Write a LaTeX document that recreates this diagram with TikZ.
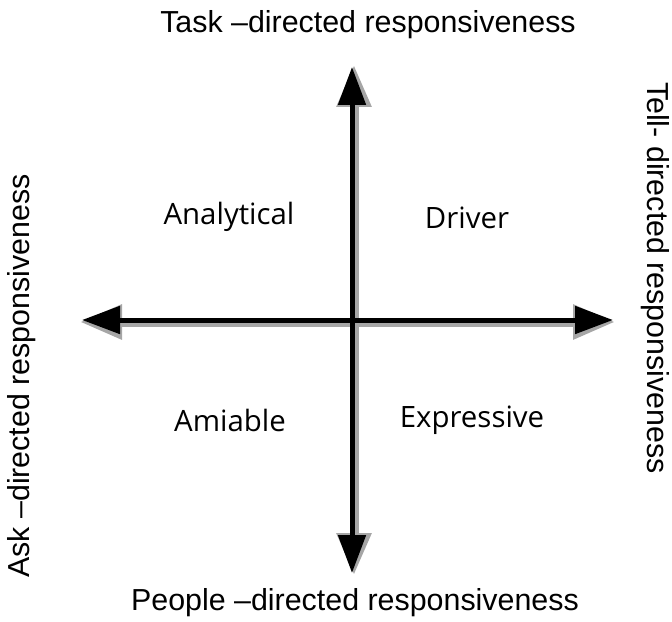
\documentclass[tikz,border=0pt]{standalone}
\usepackage{fontspec}
\setmainfont{Liberation Sans}
\newfontfamily\quadfont{Open Sans}
\usetikzlibrary{arrows.meta}
\begin{document}
\begin{tikzpicture}[x=1bp,y=-1bp,
  axis/.style={line width=5bp,black,-{Triangle[length=38bp,width=27bp]}},
  axisshadow/.style={line width=9bp,black!35,-{Triangle[length=42bp,width=33bp]}},
  outer/.style={font=\fontsize{30.5}{34}\selectfont,inner sep=0pt},
  quad/.style={font=\quadfont\fontsize{29.5}{33}\selectfont,inner sep=0pt}]
\useasboundingbox (0,0) rectangle (672,622);
\coordinate (C) at (352,320);
\coordinate (T) at (352,67);
\coordinate (B) at (352,573);
\coordinate (L) at (82,320);
\coordinate (R) at (613,320);
\coordinate (Ts) at (354,65);
\coordinate (Bs) at (354,575);
\coordinate (Ls) at (80,322);
\coordinate (Rs) at (615,322);
\coordinate (Cs) at (354,322);
% shadows
\draw[axisshadow] (Cs) -- (Ts);
\draw[axisshadow] (Cs) -- (Bs);
\draw[axisshadow] (Cs) -- (Ls);
\draw[axisshadow] (Cs) -- (Rs);
% axes
\draw[axis] (C) -- (T);
\draw[axis] (C) -- (B);
\draw[axis] (C) -- (L);
\draw[axis] (C) -- (R);
% outer labels
\node[outer] (top) at (368,25) {Task –directed responsiveness};
\node[outer] (bot) at (355,603) {People –directed responsiveness};
\node[outer,rotate=90] (left) at (22,376) {Ask –directed responsiveness};
\node[outer,rotate=-90] (right) at (655,278) {Tell- directed responsiveness};
% quadrant labels
\node[quad] (an) at (229,217) {Analytical};
\node[quad] (dr) at (467,218) {Driver};
\node[quad] (am) at (230,420) {Amiable};
\node[quad] (ex) at (472,420) {Expressive};
\end{tikzpicture}
\end{document}
